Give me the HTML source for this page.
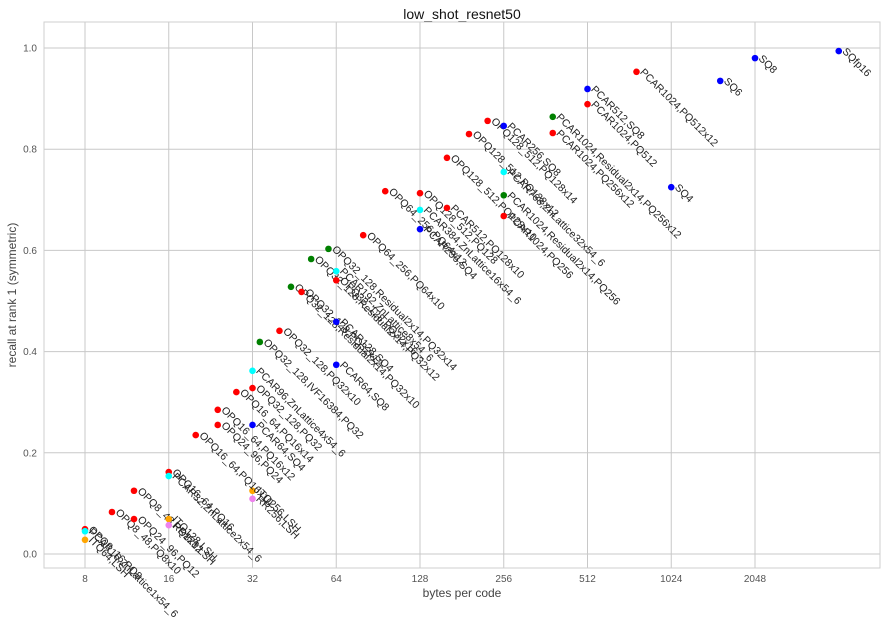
<!DOCTYPE html>
<html><head><meta charset="utf-8"><style>
body{margin:0;background:#fff;font-family:"Liberation Sans",sans-serif}
svg text{font-family:"Liberation Sans",sans-serif}
</style></head><body>
<svg id="chart" width="887" height="620" viewBox="0 0 887 620" xmlns="http://www.w3.org/2000/svg">
<rect x="0" y="0" width="887" height="620" fill="#fff"/>
<text x="462" y="19" font-size="14" text-anchor="middle" fill="#111">low_shot_resnet50</text>
<g id="grid"></g>
<rect x="44" y="22" width="836" height="546" fill="none" stroke="#cfcfcf" stroke-width="1"/>
<g id="ticks"></g>
<g id="marks"></g>
<text x="462" y="597" font-size="12" text-anchor="middle" fill="#444">bytes per code</text>
<text x="16" y="295" font-size="12" text-anchor="middle" fill="#444" transform="rotate(-90 16 295)">recall at rank 1 (symmetric)</text>
</svg>
<script>
const xTicks=[8,16,32,64,128,256,512,1024,2048];
const yTicks=[0.0,0.2,0.4,0.6,0.8,1.0];
const labels=["OPQ8_16,PQ8","PCAR16,ZnLattice1x54_6","ITQ64,LSH","OPQ8_48,PQ8x10","OPQ8_48,PQ8x12","OPQ24_96,PQ12","OPQ16_64,PQ16","PCAR32,ZnLattice2x54_6","ITQ128,LSH","RR128,LSH","ITQ256,LSH","RR256,LSH","OPQ16_64,PQ16x10","OPQ16_64,PQ16x12","OPQ24_96,PQ24","OPQ16_64,PQ16x14","OPQ32_128,PQ32","PCAR64,SQ4","PCAR96,ZnLattice4x54_6","OPQ32_128,IVF16384,PQ32","OPQ32_128,PQ32x10","PCAR64,SQ8","OPQ32_128,Residual2x14,PQ32x10","OPQ32_128,PQ32x12","PCAR128,SQ4","OPQ32_128,Residual2x14,PQ32x12","OPQ32_128,Residual2x14,PQ32x14","PCAR192,ZnLattice8x54_6","OPQ32_128,PQ32x16","OPQ64_256,PQ64x10","OPQ128_512,PQ128","PCAR512,PQ128x10","PCAR384,ZnLattice16x54_6","PCAR256,SQ4","OPQ64_256,PQ64x12","OPQ128_512,PQ128x10","OPQ128_512,PQ128x12","OPQ128_512,PQ128x14","PCAR256,SQ8","PCAR768,ZnLattice32x54_6","PCAR1024,Residual2x14,PQ256","PCAR1024,PQ256","PCAR1024,Residual2x14,PQ256x12","PCAR1024,PQ256x12","PCAR512,SQ8","PCAR1024,PQ512","PCAR1024,PQ512x12","SQ4","SQ6","SQ8","SQfp16"];
const bytesPerCode=[8,8,8,10,12,12,16,16,16,16,32,32,20,24,24,28,32,32,32,34,40,64,44,48,64,52,60,64,64,80,128,160,128,128,96,160,192,224,256,256,256,256,384,384,512,512,768,1024,1536,2048,4096];
const recall=[0.049,0.045,0.028,0.083,0.125,0.069,0.162,0.154,0.069,0.057,0.125,0.109,0.235,0.285,0.255,0.320,0.328,0.255,0.362,0.419,0.441,0.374,0.528,0.518,0.459,0.583,0.603,0.559,0.541,0.630,0.713,0.684,0.680,0.642,0.717,0.783,0.830,0.856,0.846,0.755,0.709,0.668,0.864,0.832,0.919,0.889,0.953,0.725,0.935,0.980,0.994];
const colors=["red","cyan","orange","red","red","red","red","cyan","orange","violet","orange","violet","red","red","red","red","red","blue","cyan","green","red","blue","green","red","blue","green","green","cyan","red","red","red","red","cyan","blue","red","red","red","red","blue","cyan","green","red","green","red","blue","red","red","blue","blue","blue","blue"];
const NS="http://www.w3.org/2000/svg";
const X=b=>85+83.75*Math.log2(b/8);
const Y=r=>554-506*r;
const grid=document.getElementById('grid'),ticks=document.getElementById('ticks'),marks=document.getElementById('marks');
function mk(tag,attrs,parent){const e=document.createElementNS(NS,tag);for(const k in attrs)e.setAttribute(k,attrs[k]);parent.appendChild(e);return e;}
xTicks.forEach(t=>{
  const l=mk('line',{x1:X(t),x2:X(t),y1:22,y2:568,stroke:'#c8c8c8'},grid);
  
  
  const tx=mk('text',{x:X(t),y:582,'font-size':10,'text-anchor':'middle',fill:'#555'},ticks);
  tx.textContent=t;
  
  
});
yTicks.forEach(t=>{
  const l=mk('line',{x1:44,x2:880,y1:Y(t),y2:Y(t),stroke:'#c8c8c8'},grid);
  
  
  const tx=mk('text',{x:37,y:Y(t)+3.5,'font-size':10,'text-anchor':'end',fill:'#555'},ticks);
  tx.textContent=t.toFixed(1);
  
  
});
labels.forEach((lab,i)=>{
  const cx=X(bytesPerCode[i]),cy=Y(recall[i]);
  const c=mk('circle',{cx:cx,cy:cy,r:3.3,fill:colors[i]},marks);
  
  
  const ax=cx+3,ay=cy+1;
  const t=mk('text',{x:ax,y:ay,'font-size':10.5,fill:'#222',transform:`rotate(45 ${ax} ${ay})`},marks);
  t.textContent=lab;
  
  
});
</script>
</body></html>
